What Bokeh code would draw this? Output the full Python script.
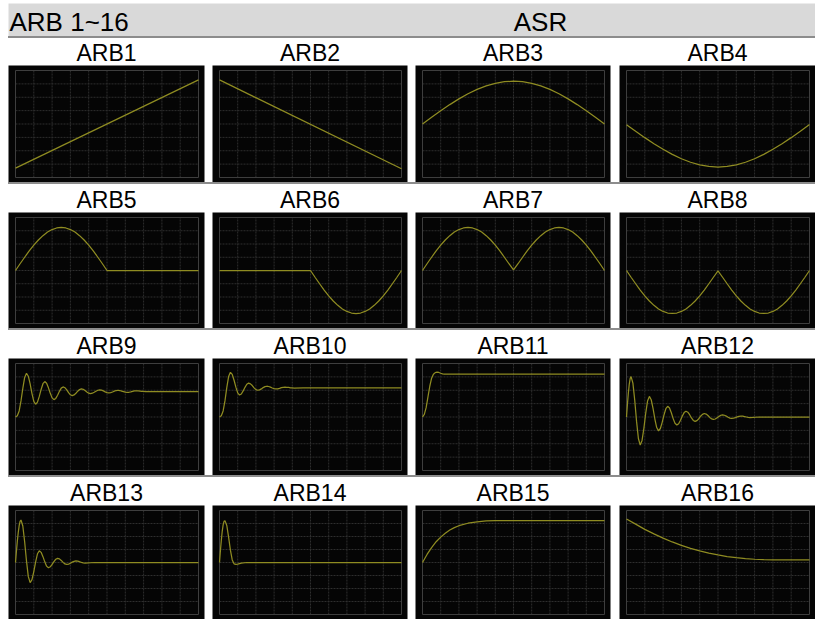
from bokeh.plotting import figure
from bokeh.layouts import column, row
from bokeh.models import Range1d, Spacer
from bokeh.core.properties import value
from bokeh.embed import file_html
from bokeh.resources import INLINE

# ---------------- data (in grid divisions) ----------------
HEADER_LEFT = "ARB 1~16"
HEADER_RIGHT = "ASR"
TITLES = ["ARB1", "ARB2", "ARB3", "ARB4", "ARB5", "ARB6", "ARB7", "ARB8",
          "ARB9", "ARB10", "ARB11", "ARB12", "ARB13", "ARB14", "ARB15", "ARB16"]

GRID_X = [1, 2, 3, 4, 5, 6, 7, 8, 9]
GRID_Y = [1, 2, 3, 4, 5, 6, 7]
X_DIVS = 10
Y_DIVS = 8

ARB1_X = [0, 10]
ARB1_Y = [0.7, 7.3]
ARB2_X = [0, 10]
ARB2_Y = [7.3, 0.65]

HALF_X = [0, 0.5, 1, 1.5, 2, 2.5, 3, 3.5, 4, 4.5, 5, 5.5, 6, 6.5, 7, 7.5, 8, 8.5, 9, 9.5, 10]
ARB3_Y = [4.0, 4.50, 4.99, 5.45, 5.88, 6.26, 6.59, 6.85, 7.04, 7.16, 7.2,
          7.16, 7.04, 6.85, 6.59, 6.26, 5.88, 5.45, 4.99, 4.50, 4.0]
ARB4_Y = [3.95, 3.46, 2.98, 2.53, 2.11, 1.73, 1.40, 1.14, 0.95, 0.83, 0.78,
          0.83, 0.95, 1.14, 1.40, 1.73, 2.11, 2.53, 2.98, 3.46, 3.97]

ARB5_X = [0, 0.25, 0.5, 0.75, 1, 1.25, 1.5, 1.75, 2, 2.25, 2.5, 2.75, 3, 3.25, 3.5,
          3.75, 4, 4.25, 4.5, 4.75, 5, 10]
ARB5_Y = [4.0, 4.51, 5.0, 5.48, 5.91, 6.30, 6.63, 6.90, 7.09, 7.21, 7.25, 7.21, 7.09,
          6.90, 6.63, 6.30, 5.91, 5.48, 5.0, 4.51, 4.0, 4.0]
ARB6_X = [0, 5, 5.25, 5.5, 5.75, 6, 6.25, 6.5, 6.75, 7, 7.25, 7.5, 7.75, 8, 8.25, 8.5,
          8.75, 9, 9.25, 9.5, 9.75, 10]
ARB6_Y = [4.0, 4.0, 3.49, 3.0, 2.52, 2.09, 1.70, 1.37, 1.10, 0.91, 0.79, 0.75, 0.79,
          0.91, 1.10, 1.37, 1.70, 2.09, 2.52, 3.0, 3.49, 4.0]

QUARTER_X = [0, 0.25, 0.5, 0.75, 1, 1.25, 1.5, 1.75, 2, 2.25, 2.5, 2.75, 3, 3.25, 3.5,
             3.75, 4, 4.25, 4.5, 4.75, 5, 5.25, 5.5, 5.75, 6, 6.25, 6.5, 6.75, 7, 7.25,
             7.5, 7.75, 8, 8.25, 8.5, 8.75, 9, 9.25, 9.5, 9.75, 10]
ARB7_Y = [4.0, 4.51, 5.0, 5.48, 5.91, 6.30, 6.63, 6.90, 7.09, 7.21, 7.25, 7.21, 7.09,
          6.90, 6.63, 6.30, 5.91, 5.48, 5.0, 4.51, 4.05, 4.51, 5.0, 5.48, 5.91, 6.30,
          6.63, 6.90, 7.09, 7.21, 7.25, 7.21, 7.09, 6.90, 6.63, 6.30, 5.91, 5.48, 5.0,
          4.51, 4.0]
ARB8_Y = [4.0, 3.49, 3.0, 2.52, 2.09, 1.70, 1.37, 1.10, 0.91, 0.79, 0.76, 0.79, 0.91,
          1.10, 1.37, 1.70, 2.09, 2.52, 3.0, 3.49, 3.98, 3.49, 3.0, 2.52, 2.09, 1.70,
          1.37, 1.10, 0.91, 0.79, 0.76, 0.79, 0.91, 1.10, 1.37, 1.70, 2.09, 2.52, 3.0,
          3.49, 4.0]

ARB9_X = [0.0, 0.1, 0.2, 0.3, 0.4, 0.5, 0.6, 0.7, 0.8, 0.9, 1.0, 1.1, 1.2, 1.3, 1.4,
          1.5, 1.6, 1.7, 1.8, 1.9, 2.0, 2.1, 2.2, 2.3, 2.4, 2.5, 2.6, 2.7, 2.8, 2.9,
          3.0, 3.1, 3.2, 3.3, 3.4, 3.5, 3.6, 3.7, 3.8, 3.9, 4.0, 4.1, 4.2, 4.3, 4.4,
          4.5, 4.6, 4.7, 4.8, 4.9, 5.0, 5.1, 5.2, 5.3, 5.4, 5.5, 5.6, 5.7, 5.8, 5.9,
          6.0, 6.1, 6.2, 6.3, 6.4, 6.5, 6.6, 6.7, 6.8, 6.9, 7.0, 7.1, 10.0]
ARB9_Y = [4.0, 4.1, 4.45, 5.2, 6.14, 6.96, 7.27, 7.05, 6.47, 5.75, 5.17, 4.95, 5.11,
          5.54, 6.06, 6.49, 6.65, 6.52, 6.18, 5.77, 5.43, 5.30, 5.39, 5.63, 5.92, 6.16,
          6.25, 6.19, 6.03, 5.82, 5.66, 5.60, 5.65, 5.77, 5.93, 6.05, 6.10, 6.07, 5.98,
          5.87, 5.78, 5.75, 5.78, 5.85, 5.93, 6.00, 6.03, 6.01, 5.95, 5.88, 5.82, 5.80,
          5.82, 5.87, 5.93, 5.98, 6.00, 5.98, 5.94, 5.90, 5.86, 5.84, 5.85, 5.88, 5.92,
          5.95, 5.96, 5.95, 5.94, 5.92, 5.91, 5.90, 5.90]

ARB10_X = [0.0, 0.1, 0.2, 0.3, 0.4, 0.5, 0.6, 0.7, 0.8, 0.9, 1.0, 1.1, 1.2, 1.3, 1.4,
           1.5, 1.6, 1.7, 1.8, 1.9, 2.0, 2.1, 2.2, 2.3, 2.4, 2.5, 2.6, 2.7, 2.8, 2.9,
           3.0, 3.1, 3.2, 3.3, 3.4, 3.5, 3.6, 3.7, 3.8, 3.9, 4.0, 4.1, 4.6, 10.0]
ARB10_Y = [4.0, 4.1, 4.45, 5.2, 6.19, 7.02, 7.34, 7.18, 6.75, 6.23, 5.80, 5.64, 5.72,
           5.95, 6.22, 6.45, 6.53, 6.48, 6.35, 6.18, 6.05, 6.00, 6.03, 6.10, 6.20, 6.27,
           6.30, 6.28, 6.23, 6.17, 6.12, 6.10, 6.11, 6.14, 6.19, 6.22, 6.23, 6.22, 6.21,
           6.18, 6.17, 6.16, 6.18, 6.18]

ARB11_X = [0.0, 0.1, 0.2, 0.3, 0.4, 0.5, 0.6, 0.7, 0.8, 0.9, 1.0, 1.1, 1.2, 10.0]
ARB11_Y = [4.0, 4.2, 4.7, 5.5, 6.3, 6.9, 7.2, 7.32, 7.35, 7.33, 7.27, 7.22, 7.2, 7.2]

ARB12_X = [0, 0.05, 0.1, 0.15, 0.2, 0.25, 0.35, 0.45, 0.55, 0.65, 0.75, 0.85, 0.95,
           1.05, 1.15, 1.25, 1.35, 1.45, 1.55, 1.65, 1.75, 1.85, 1.95, 2.05, 2.15, 2.25,
           2.35, 2.45, 2.55, 2.65, 2.75, 2.85, 2.95, 3.05, 3.15, 3.25, 3.35, 3.45, 3.55,
           3.65, 3.75, 3.85, 3.95, 4.05, 4.15, 4.25, 4.35, 4.45, 4.55, 4.65, 4.75, 4.85,
           4.95, 5.05, 5.15, 5.25, 5.35, 5.45, 5.55, 5.65, 5.75, 5.85, 5.95, 6.05, 6.15,
           6.25, 6.35, 6.45, 6.55, 6.65, 6.75, 7.25, 10.0]
ARB12_Y = [4.0, 4.93, 5.78, 6.44, 6.87, 7.02,
           6.53, 5.25, 3.67, 2.39, 1.90,
           2.25, 3.16, 4.28, 5.19, 5.54,
           5.29, 4.65, 3.85, 3.21, 2.96,
           3.14, 3.60, 4.16, 4.62, 4.80,
           4.67, 4.32, 3.88, 3.53, 3.40,
           3.50, 3.76, 4.07, 4.33, 4.43,
           4.36, 4.17, 3.93, 3.74, 3.67,
           3.73, 3.87, 4.06, 4.20, 4.26,
           4.22, 4.11, 3.97, 3.86, 3.82,
           3.85, 3.94, 4.04, 4.13, 4.16,
           4.13, 4.07, 3.98, 3.92, 3.89,
           3.91, 3.95, 4.01, 4.05, 4.07,
           4.06, 4.03, 4.00, 3.97, 3.96,
           4.00, 4.00]

ARB13_X = [0, 0.05, 0.1, 0.15, 0.2, 0.25, 0.3, 0.4, 0.5, 0.6, 0.7, 0.8, 0.9, 1.0, 1.1,
           1.2, 1.3, 1.4, 1.5, 1.6, 1.7, 1.8, 1.9, 2.0, 2.1, 2.2, 2.3, 2.4, 2.5, 2.6,
           2.7, 2.8, 2.9, 3.0, 3.1, 3.2, 3.3, 3.4, 3.5, 3.6, 3.7, 3.8, 4.3, 10.0]
ARB13_Y = [4.0, 4.85, 5.64, 6.31, 6.83, 7.16, 7.27,
           6.81, 5.60, 4.12, 2.91, 2.45,
           2.68, 3.30, 4.05, 4.67, 4.90,
           4.78, 4.45, 4.05, 3.72, 3.60,
           3.67, 3.85, 4.07, 4.25, 4.32,
           4.28, 4.16, 4.01, 3.89, 3.85,
           3.88, 3.94, 4.03, 4.09, 4.12,
           4.10, 4.06, 4.01, 3.97, 3.95,
           4.00, 4.00]

ARB14_X = [0, 0.05, 0.1, 0.15, 0.2, 0.25, 0.3, 0.4, 0.5, 0.6, 0.7, 0.8, 0.9, 1.0, 1.2,
           1.5, 10.0]
ARB14_Y = [4.0, 4.9, 5.7, 6.4, 6.9, 7.17, 7.22, 6.85, 5.95, 4.95, 4.2, 3.9, 3.86, 3.88,
           3.95, 4.0, 4.0]

ARB15_X = [0, 0.25, 0.5, 0.75, 1, 1.25, 1.5, 1.75, 2, 2.5, 3, 3.5, 4, 10]
ARB15_Y = [4.0, 4.62, 5.15, 5.6, 5.95, 6.25, 6.5, 6.68, 6.83, 7.02, 7.13, 7.2, 7.23, 7.23]

ARB16_X = [0, 0.5, 1, 1.5, 2, 2.5, 3, 3.5, 4, 4.5, 5, 5.5, 6, 6.5, 7, 7.5, 8, 10]
ARB16_Y = [7.35, 6.95, 6.55, 6.2, 5.88, 5.58, 5.32, 5.09, 4.89, 4.72, 4.58, 4.46, 4.37,
           4.3, 4.25, 4.22, 4.21, 4.21]

WAVES = [(ARB1_X, ARB1_Y), (ARB2_X, ARB2_Y), (HALF_X, ARB3_Y), (HALF_X, ARB4_Y),
         (ARB5_X, ARB5_Y), (ARB6_X, ARB6_Y), (QUARTER_X, ARB7_Y), (QUARTER_X, ARB8_Y),
         (ARB9_X, ARB9_Y), (ARB10_X, ARB10_Y), (ARB11_X, ARB11_Y), (ARB12_X, ARB12_Y),
         (ARB13_X, ARB13_Y), (ARB14_X, ARB14_Y), (ARB15_X, ARB15_Y), (ARB16_X, ARB16_Y)]

# ---------------- style / layout ----------------
FONT = "Liberation Sans"
LEFT_OFFSET = 8
TOP_OFFSET = 3
TOTAL_W = 807
COL_W = [196, 195, 195, 196]
COL_GAP = [8, 8, 9, 0]
ROW_H = [117, 116, 117, 114]
TITLE_H = [27, 28, 28, 28]
TITLE_MID = 13          # title text middle above strip bottom (px)
HEADER_H = 33
HEADER_MID = 14.5       # header text middle above header bottom (px)
ASR_CENTER = 532
PAD_L, PAD_R, PAD_T, PAD_B = 7, 6, 5, 5

WAVE_COLOR = "#8f8c22"
GRID_COLOR = "#2e2e2e"
FRAME_COLOR = "#3e3e3e"
PANEL_BG = "#050505"
SEP_COLOR = "#8c8c8c"


def base_fig(w, h, xr, yr, bg, border):
    p = figure(frame_width=w, frame_height=h, x_range=xr, y_range=yr,
               toolbar_location=None, output_backend="svg",
               x_axis_location=None, y_axis_location=None,
               min_border_left=0, min_border_right=0, min_border_top=0,
               min_border_bottom=0, background_fill_color=bg,
               border_fill_color=border, outline_line_color=None)
    p.grid.visible = False
    return p


def separator():
    return Spacer(width=TOTAL_W, height=2, styles={"background-color": SEP_COLOR})


def header():
    p = base_fig(TOTAL_W, HEADER_H, Range1d(0, TOTAL_W), Range1d(0, HEADER_H),
                 "#d9d9d9", "#d9d9d9")
    p.text(x=[1], y=[HEADER_MID], text=[HEADER_LEFT], text_font=value(FONT),
           text_font_size="26px", text_baseline="middle", text_align="left",
           text_color="black")
    p.text(x=[ASR_CENTER], y=[HEADER_MID], text=[HEADER_RIGHT], text_font=value(FONT),
           text_font_size="26px", text_baseline="middle", text_align="center",
           text_color="black")
    return p


def title_strip(titles, h):
    p = base_fig(TOTAL_W, h, Range1d(0, TOTAL_W), Range1d(0, h), "white", "white")
    centers = []
    left = 0
    for w, g in zip(COL_W, COL_GAP):
        centers.append(left + w / 2)
        left += w + g
    p.text(x=centers, y=[TITLE_MID] * len(titles), text=titles, text_font=value(FONT),
           text_font_size="23px", text_baseline="middle", text_align="center",
           text_color="black")
    return p


def panel(xs, ys, fw, gap, fh):
    inner_w = fw - PAD_L - PAD_R
    inner_h = fh - PAD_T - PAD_B
    xr = Range1d(-PAD_L * X_DIVS / inner_w, X_DIVS + PAD_R * X_DIVS / inner_w)
    yr = Range1d(-PAD_B * Y_DIVS / inner_h, Y_DIVS + PAD_T * Y_DIVS / inner_h)
    p = base_fig(fw, fh, xr, yr, PANEL_BG, "white")
    p.min_border_right = gap
    p.segment(x0=GRID_X, y0=0, x1=GRID_X, y1=Y_DIVS, line_color=GRID_COLOR,
              line_width=1, line_dash="2 1")
    p.segment(x0=0, y0=GRID_Y, x1=X_DIVS, y1=GRID_Y, line_color=GRID_COLOR,
              line_width=1, line_dash="2 1")
    p.quad(left=[0], right=[X_DIVS], bottom=[0], top=[Y_DIVS], fill_color=None,
           line_color=FRAME_COLOR, line_width=1)
    p.line(xs, ys, line_color=WAVE_COLOR, line_width=1.25)
    return p


children = [Spacer(width=TOTAL_W, height=TOP_OFFSET), header(), separator()]
for r in range(4):
    children.append(title_strip(TITLES[r * 4:(r + 1) * 4], TITLE_H[r]))
    figs = []
    for c in range(4):
        xs, ys = WAVES[r * 4 + c]
        figs.append(panel(xs, ys, COL_W[c], COL_GAP[c], ROW_H[r]))
    children.append(row(*figs, spacing=0))
    if r < 3:
        children.append(separator())

layout = row(Spacer(width=LEFT_OFFSET, height=10), column(*children, spacing=0), spacing=0)

open("out.html", "w").write(file_html(layout, INLINE))
